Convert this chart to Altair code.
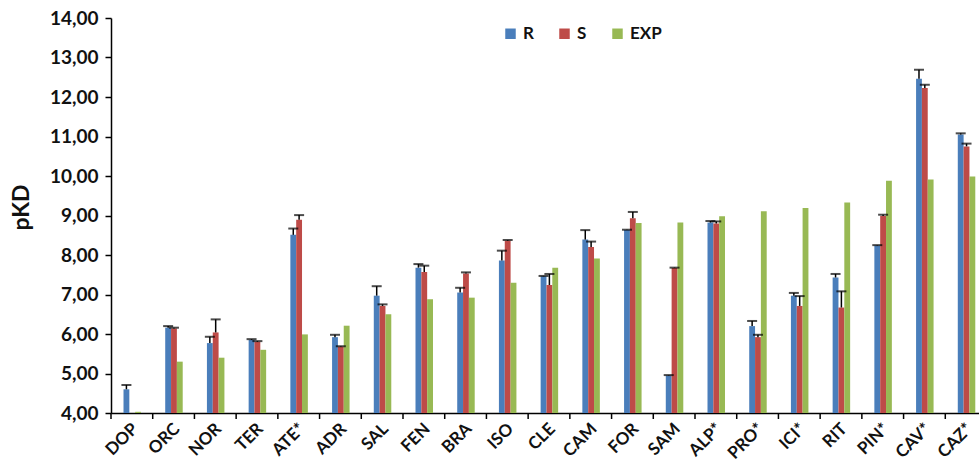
import altair as alt
import pandas as pd

# Binding affinities (pKD) per compound for the R and S enantiomers and the experimental value
compounds = ["DOP", "ORC", "NOR", "TER", "ATE*", "ADR", "SAL", "FEN", "BRA", "ISO", "CLE",
             "CAM", "FOR", "SAM", "ALP*", "PRO*", "ICI*", "RIT", "PIN*", "CAV*", "CAZ*"]
r_pkd = [4.60, 6.16, 5.77, 5.85, 8.51, 5.92, 6.97, 7.68, 7.05, 7.86, 7.46,
         8.39, 8.63, 4.95, 8.82, 6.20, 6.97, 7.43, 8.24, 12.46, 11.05]
r_err = [0.11, 0.04, 0.16, 0.02, 0.16, 0.06, 0.24, 0.09, 0.12, 0.25, 0.01,
         0.24, 0.01, 0.01, 0.04, 0.13, 0.07, 0.09, 0.01, 0.23, 0.03]
s_pkd = [None, 6.14, 6.04, 5.80, 8.89, 5.68, 6.71, 7.57, 7.53, 8.36, 7.24,
         8.20, 8.93, 7.67, 8.80, 5.92, 6.71, 6.67, 8.99, 12.23, 10.75]
s_err = [None, 0.02, 0.33, 0.02, 0.12, 0.01, 0.04, 0.16, 0.03, 0.02, 0.28,
         0.14, 0.16, 0.01, 0.05, 0.06, 0.25, 0.41, 0.03, 0.08, 0.07]
exp_pkd = [4.03, 5.30, 5.40, 5.60, 5.99, 6.21, 6.50, 6.88, 6.92, 7.30, 7.68,
           7.91, 8.81, 8.82, 8.98, 9.11, 9.19, 9.33, 9.88, 9.91, 9.99]
y_ticks = [4, 5, 6, 7, 8, 9, 10, 11, 12, 13, 14]

series_names = ["R", "S", "EXP"]
series_colors = ["#4a7ebb", "#be4b48", "#98b954"]

rows = []
for i, c in enumerate(compounds):
    rows.append({"compound": c, "series": "R", "pkd": r_pkd[i], "err": r_err[i]})
    rows.append({"compound": c, "series": "S", "pkd": s_pkd[i], "err": s_err[i]})
    rows.append({"compound": c, "series": "EXP", "pkd": exp_pkd[i], "err": None})
df = pd.DataFrame(rows)
df = df[df["pkd"].notna()].copy()
df["top"] = df["pkd"] + df["err"]
err_df = df[df["err"].notna()].copy()
cat_df = pd.DataFrame({"compound": compounds})

font = "Lato"

# one axis definition per channel, shared by every layer so the merged axes keep it;
# the compound names are drawn by a slanted text layer below
x_axis = alt.Axis(
    title=None,
    labels=False,
    ticks=False,
    domainColor="#000000",
    domainWidth=1.5,
)
y_axis = alt.Axis(
    title="pKD",
    titleFont=font,
    titleFontSize=23,
    titleFontWeight="bold",
    titleColor="#111111",
    titleAngle=270,
    titleX=-90,
    titleY=189,
    titleAlign="center",
    titleBaseline="middle",
    values=y_ticks,
    labelOverlap=False,
    labelExpr="replace(format(datum.value, '.2f'), '.', ',')",
    labelFont=font,
    labelFontSize=19,
    labelFontWeight="bold",
    labelColor="#111111",
    labelPadding=7,
    tickSize=6,
    tickColor="#000000",
    tickWidth=1.5,
    domainColor="#000000",
    domainWidth=1.5,
    grid=False,
)
x_scale = alt.Scale(range=[0, 876], paddingInner=0, paddingOuter=0)
y_scale = alt.Scale(domain=[4, 14], nice=False, zero=False)
# the three bars of a group sit in the middle part of each compound's band
off_scale = alt.Scale(domain=series_names, range=[12.5, 30], paddingInner=0, paddingOuter=0)


def x_enc(**kw):
    return alt.X("compound:N", sort=compounds, scale=x_scale, axis=x_axis, **kw)


def off_enc():
    return alt.XOffset("series:N", sort=series_names, scale=off_scale)


bars = alt.Chart(df).mark_bar(minBandSize=1).encode(
    x=x_enc(),
    xOffset=off_enc(),
    y=alt.Y("pkd:Q", scale=y_scale, axis=y_axis),
    y2=alt.datum(4),
    color=alt.Color(
        "series:N",
        sort=series_names,
        scale=alt.Scale(domain=series_names, range=series_colors),
        legend=alt.Legend(
            title=None,
            orient="none",
            direction="horizontal",
            legendX=391,
            legendY=7,
            symbolType="square",
            symbolSize=110,
            symbolStrokeWidth=0,
            labelFont=font,
            labelFontSize=17,
            labelFontWeight="bold",
            labelColor="#111111",
            labelOffset=4,
            columnPadding=22,
        ),
    ),
)

stems = alt.Chart(err_df).mark_rule(color="#000000", strokeWidth=1.5).encode(
    x=x_enc(),
    xOffset=off_enc(),
    y=alt.Y("pkd:Q", scale=y_scale, axis=y_axis),
    y2=alt.Y2("top:Q"),
)

caps = alt.Chart(err_df).mark_tick(color="#000000", size=10, thickness=2).encode(
    x=x_enc(),
    xOffset=off_enc(),
    y=alt.Y("top:Q", scale=y_scale, axis=y_axis),
)

# category tick marks on the boundaries between compounds, just below the x axis line
boundary_ticks = alt.Chart(cat_df).mark_rule(color="#000000", strokeWidth=1.5).encode(
    x=x_enc(bandPosition=0),
    y=alt.value(395),
    y2=alt.value(401),
)

# slanted compound names under each group
names = alt.Chart(cat_df).mark_text(
    angle=315,
    align="right",
    baseline="middle",
    font=font,
    fontSize=17,
    fontWeight="bold",
    color="#111111",
    dx=5,
).encode(
    x=x_enc(),
    y=alt.value(412),
    text="compound:N",
)

chart = (
    alt.layer(bars, stems, caps, boundary_ticks, names)
    .properties(
        width=868,
        height=395,
        autosize=alt.AutoSizeParams(type="none"),
        padding={"left": 111, "top": 18, "right": 0, "bottom": 56},
        background="#ffffff",
    )
    .configure_view(stroke=None)
)

chart.save("out.html", embed_options={"renderer": "svg", "actions": False})
